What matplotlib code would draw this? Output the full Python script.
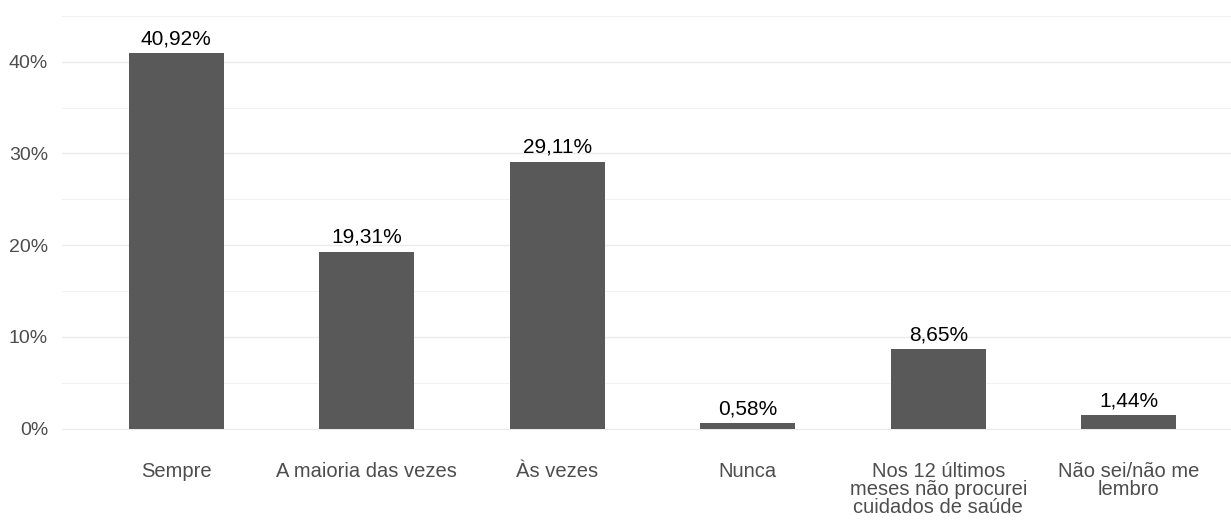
import numpy as np
import matplotlib.pyplot as plt
from matplotlib.ticker import MultipleLocator

plt.rcParams['font.family'] = ['Liberation Sans', 'DejaVu Sans']

# Dades
categories = ['Sempre', 'A maioria das vezes', 'Às vezes', 'Nunca',
              'Nos 12 últimos\nmeses não procurei\ncuidados de saúde',
              'Não sei/não me\nlembro']
valors = [40.92, 19.31, 29.11, 0.58, 8.65, 1.44]
etiquetes = ['40,92%', '19,31%', '29,11%', '0,58%', '8,65%', '1,44%']
yticks = [0, 10, 20, 30, 40]
ytick_labels = ['0%', '10%', '20%', '30%', '40%']

W, H = 1231, 520
fig = plt.figure(figsize=(W / 100, H / 100), dpi=100)
# panell: x 62 -> 1243 px, y 13 -> 431 px
ax = fig.add_axes([62 / W, (H - 431) / H, (1243 - 62) / W, (431 - 13) / H])

x = np.arange(len(categories))
ax.bar(x, valors, width=0.5, color='#595959', zorder=2)

for xi, v, lab in zip(x, valors, etiquetes):
    ax.annotate(lab, (xi, v), xytext=(0, 3.5), textcoords='offset points',
                ha='center', va='bottom', fontsize=15, color='black')

ax.set_xlim(-0.6, len(categories) - 0.4)
ax.set_ylim(-0.25, 45.3)
ax.set_yticks(yticks)
ax.set_yticklabels(ytick_labels, fontsize=14)
ax.yaxis.set_minor_locator(MultipleLocator(5))
ax.set_xticks(x)
ax.set_xticklabels(categories, linespacing=0.95, fontsize=14.5)

ax.grid(True, which='major', axis='y', color='#EBEBEB', linewidth=1.0, zorder=0)
ax.grid(True, which='minor', axis='y', color='#F2F2F2', linewidth=0.8, zorder=0)
ax.grid(True, which='major', axis='x', color='none')
for s in ax.spines.values():
    s.set_visible(False)
ax.tick_params(axis='both', which='both', length=0, colors='#4D4D4D')
ax.tick_params(axis='x', pad=22)
ax.tick_params(axis='y', pad=10)

fig.savefig('out.png', dpi=100)
